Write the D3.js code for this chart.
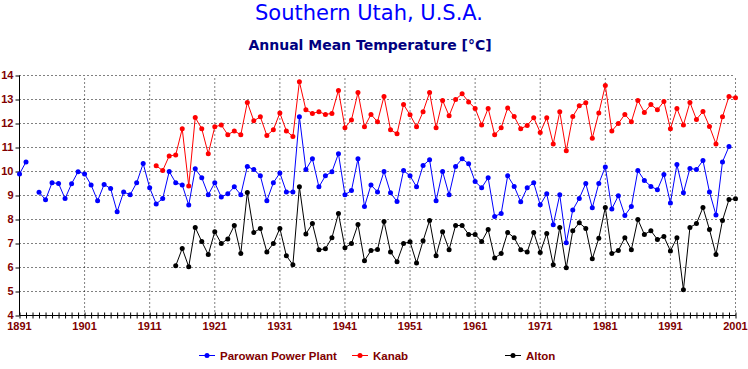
<!DOCTYPE html>
<html>
  <head>
    <style>
      body { margin: 0; background: #fff; }
      .lbl { font-family: "Liberation Sans", Arial, sans-serif; font-weight: bold; fill: #800000; }
    </style>
    <script src="https://d3js.org/d3.v7.min.js"></script>
  </head>
  <body>
    <svg width="748" height="369"></svg>
    <script>
      var parowanStart = 1891;
      var parowan = [9.90, 10.40, null, 9.14, 8.82, 9.53, 9.50, 8.87, 9.49, 9.99,
        9.90, 9.44, 8.78, 9.46, 9.29, 8.32, 9.15, 9.03, 9.53, 10.33,
        9.32, 8.65, 8.87, 10.00, 9.53, 9.44, 8.60, 10.11, 9.74, 9.03,
        9.53, 8.94, 9.07, 9.36, 9.03, 10.21, 10.08, 9.82, 8.78, 9.53,
        9.94, 9.15, 9.15, 12.28, 10.08, 10.53, 9.36, 9.82, 9.99, 10.74,
        9.03, 9.21, 10.53, 8.54, 9.44, 9.15, 10.00, 9.11, 8.75, 10.04,
        9.82, 9.36, 10.25, 10.49, 8.78, 10.00, 9.03, 10.21, 10.53, 10.32,
        9.58, 9.32, 9.74, 8.13, 8.25, 9.82, 9.38, 8.74, 9.32, 9.53,
        8.61, 9.07, 7.78, 9.03, 7.03, 8.40, 8.88, 9.50, 8.49, 9.50,
        10.19, 8.44, 8.99, 8.17, 8.54, 10.04, 9.63, 9.38, 9.24, 9.88,
        8.69, 10.29, 9.11, 10.13, 10.08, 10.46, 9.15, 8.19, 10.40, 11.04];

      var kanabStart = 1912;
      var kanab = [10.24, 10.04, 10.65, 10.69, 11.78, 9.40, 12.25, 11.78, 10.74,
        11.86, 11.94, 11.53, 11.69, 11.53, 12.88, 12.11, 12.28, 11.50, 11.74,
        12.44, 11.69, 11.46, 13.74, 12.57, 12.42, 12.49, 12.38, 12.42, 13.38,
        11.82, 12.15, 13.29, 11.86, 12.38, 12.07, 13.13, 11.74, 11.57, 12.79,
        12.36, 11.86, 12.49, 13.29, 11.82, 12.96, 12.32, 13.00, 13.24, 12.90,
        12.63, 11.94, 12.63, 11.53, 11.82, 12.65, 12.29, 11.78, 11.92, 12.24,
        11.63, 12.24, 11.15, 12.49, 10.86, 12.29, 12.74, 12.86, 11.39, 12.44,
        13.58, 11.69, 12.00, 12.38, 12.07, 12.96, 12.46, 12.79, 12.57, 12.92,
        11.78, 12.63, 11.94, 12.88, 12.17, 12.50, 11.88, 11.15, 12.28, 13.13,
        13.07];

      var altonStart = 1915;
      var alton = [6.07, 6.79, 6.03, 7.67, 7.08, 6.54,
        7.49, 7.00, 7.19, 7.75, 6.58, 9.13, 7.46, 7.63, 6.65, 7.00,
        7.63, 6.49, 6.11, 9.36, 7.40, 7.83, 6.74, 6.78, 7.24, 8.25,
        6.82, 7.00, 7.79, 6.28, 6.71, 6.75, 7.92, 6.65, 6.24, 7.00,
        7.07, 6.19, 7.11, 7.96, 6.49, 7.49, 6.74, 7.75, 7.75, 7.38,
        7.38, 7.08, 7.58, 6.40, 6.58, 7.46, 7.24, 6.74, 6.65, 7.46,
        6.63, 7.42, 6.11, 7.67, 5.99, 7.53, 7.86, 7.63, 6.36, 7.22,
        8.50, 6.58, 6.71, 7.24, 6.74, 8.00, 7.38, 7.53, 7.17, 7.29,
        6.69, 7.24, 5.07, 7.67, 7.83, 8.50, 7.58, 6.54, 7.96, 8.83,
        8.86];

      var seriesNames = ["Parowan Power Plant", "Kanab", "Alton"];
      var seriesColors = ["#0000ff", "#ff0000", "#000000"];
      var yearTicks = [1891, 1901, 1911, 1921, 1931, 1941, 1951, 1961, 1971, 1981, 1991, 2001];
      var tempTicks = [4, 5, 6, 7, 8, 9, 10, 11, 12, 13, 14];

      var svg = d3.select("svg");

      var x = d3.scaleLinear().domain([1891, 2001]).range([19.5, 735.5]);
      var y = d3.scaleLinear().domain([4, 14]).range([315.5, 75.5]);

      // title
      svg.append("text")
        .attr("x", 369).attr("y", 20)
        .attr("text-anchor", "middle")
        .style("font-family", "'DejaVu Sans', sans-serif")
        .style("font-size", "21px")
        .style("fill", "#0000ff")
        .text("Southern Utah, U.S.A.");

      svg.append("text")
        .attr("x", 370).attr("y", 50)
        .attr("text-anchor", "middle")
        .style("font-family", "'DejaVu Sans', sans-serif")
        .style("font-weight", "bold")
        .style("font-size", "14px")
        .style("fill", "#000080")
        .text("Annual Mean Temperature [°C]");

      // grid
      svg.append("g").selectAll("line")
        .data(tempTicks.slice(1))
        .enter().append("line")
        .attr("x1", x(1891)).attr("x2", x(2001))
        .attr("y1", function (d) { return y(d); })
        .attr("y2", function (d) { return y(d); })
        .attr("stroke", "#000")
        .attr("stroke-dasharray", "1,3");

      svg.append("g").selectAll("line")
        .data(yearTicks.slice(1))
        .enter().append("line")
        .attr("x1", function (d) { return x(d); })
        .attr("x2", function (d) { return x(d); })
        .attr("y1", y(4)).attr("y2", y(14))
        .attr("stroke", "#000")
        .attr("stroke-dasharray", "1,3");

      // x axis with yearly minor ticks
      var xAxis = svg.append("g")
        .attr("transform", "translate(0," + y(4) + ")")
        .call(d3.axisBottom(x).tickValues(d3.range(1891, 2002)).tickSize(3).tickFormat(""));
      xAxis.select(".domain").attr("d", "M" + x(1891) + ",0H" + x(2001));
      xAxis.selectAll(".tick line").attr("y1", -3);

      svg.append("g").selectAll("text")
        .data(yearTicks)
        .enter().append("text")
        .attr("class", "lbl")
        .attr("x", function (d) { return x(d); })
        .attr("y", 330)
        .attr("text-anchor", "middle")
        .style("font-size", "11px")
        .text(function (d) { return d; });

      // y axis
      var yAxis = svg.append("g")
        .attr("transform", "translate(" + x(1891) + ",0)")
        .call(d3.axisLeft(y).tickValues(tempTicks).tickSize(4).tickFormat(""));
      yAxis.select(".domain").attr("d", "M0," + y(4) + "V" + y(14));

      svg.append("g").selectAll("text")
        .data(tempTicks)
        .enter().append("text")
        .attr("class", "lbl")
        .attr("x", 13.5)
        .attr("y", function (d) { return y(d) + 3.5; })
        .attr("text-anchor", "end")
        .style("font-size", "11px")
        .text(function (d) { return d; });

      // series
      var allSeries = [
        parowan.map(function (v, i) { return { year: parowanStart + i, value: v }; }),
        kanab.map(function (v, i) { return { year: kanabStart + i, value: v }; }),
        alton.map(function (v, i) { return { year: altonStart + i, value: v }; })
      ];

      var line = d3.line()
        .defined(function (d) { return d.value != null; })
        .x(function (d) { return x(d.year); })
        .y(function (d) { return y(d.value); });

      allSeries.forEach(function (s, k) {
        svg.append("path")
          .datum(s)
          .attr("d", line)
          .attr("fill", "none")
          .attr("stroke", seriesColors[k])
          .attr("stroke-width", 1);

        svg.append("g").selectAll("circle")
          .data(s.filter(function (d) { return d.value != null; }))
          .enter().append("circle")
          .attr("cx", function (d) { return x(d.year); })
          .attr("cy", function (d) { return y(d.value); })
          .attr("r", 2.5)
          .attr("fill", seriesColors[k]);
      });

      // legend
      var legendX = [199, 352, 505];
      var legend = svg.append("g").selectAll("g")
        .data(seriesNames)
        .enter().append("g")
        .attr("transform", function (d, i) { return "translate(" + legendX[i] + ",355.5)"; });
      legend.append("line")
        .attr("x1", 0).attr("x2", 16)
        .attr("stroke", function (d, i) { return seriesColors[i]; });
      legend.append("circle")
        .attr("cx", 8).attr("r", 2.5)
        .attr("fill", function (d, i) { return seriesColors[i]; });
      legend.append("text")
        .attr("class", "lbl")
        .attr("x", 21).attr("y", 4.5)
        .style("font-size", "11.5px")
        .text(function (d) { return d; });
    </script>
  </body>
</html>
